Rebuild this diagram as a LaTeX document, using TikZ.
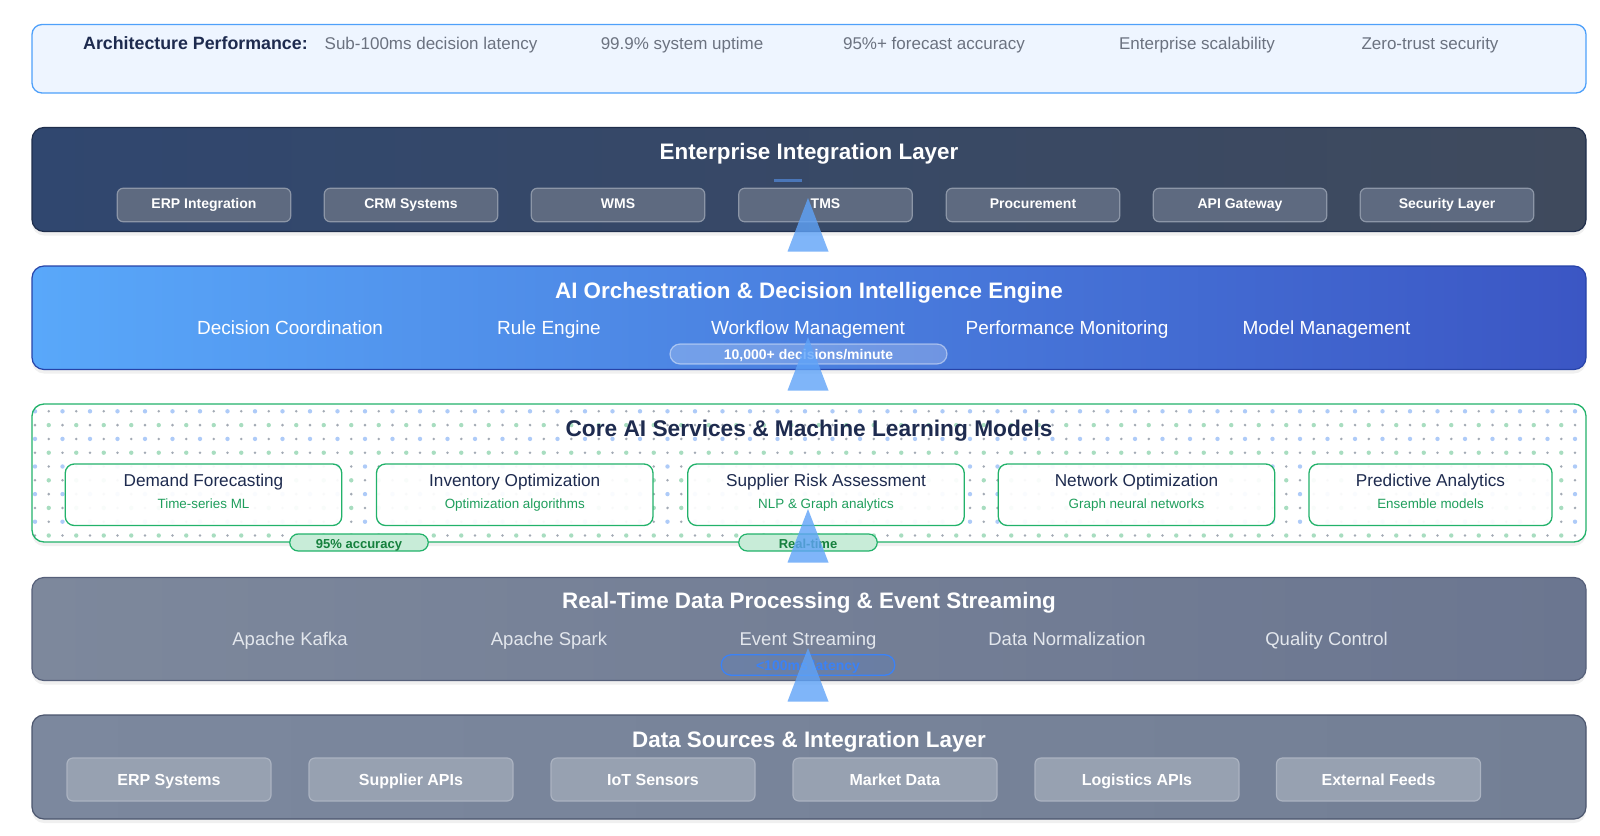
\documentclass[tikz,border=0pt]{standalone}
\usepackage{fontspec}
\setmainfont{Liberation Sans}
\usetikzlibrary{shadows}

\definecolor{navytext}{HTML}{1E2B4F}
\definecolor{greytext}{HTML}{6B7280}
\definecolor{perffill}{HTML}{EEF5FF}
\definecolor{perfedge}{HTML}{4EA0FA}
\definecolor{entleft}{HTML}{30476F}
\definecolor{entright}{HTML}{3F4A5D}
\definecolor{entedge}{HTML}{1F2E4C}
\definecolor{entboxfill}{HTML}{5E6A80}
\definecolor{entboxedge}{HTML}{8C96A7}
\definecolor{entaccent}{HTML}{4A76B8}
\definecolor{aileft}{HTML}{59A8FA}
\definecolor{airight}{HTML}{3B56C4}
\definecolor{aiedge}{HTML}{2743A8}
\definecolor{coregreen}{HTML}{22B26A}
\definecolor{cardsub}{HTML}{1F9E5C}
\definecolor{pillgreen}{HTML}{C8ECD8}
\definecolor{pilltext}{HTML}{15803D}
\definecolor{dotblue}{HTML}{AECBF8}
\definecolor{dotgreen}{HTML}{A8DDC0}
\definecolor{dotgrey}{HTML}{A3AAB5}
\definecolor{rtleft}{HTML}{7D889C}
\definecolor{rtright}{HTML}{6B7690}
\definecolor{rtedge}{HTML}{56607A}
\definecolor{rttext}{HTML}{E3E7ED}
\definecolor{rtblue}{HTML}{3B82F6}
\definecolor{dsleft}{HTML}{7C889E}
\definecolor{dsright}{HTML}{737F95}
\definecolor{dsedge}{HTML}{4C566E}
\definecolor{dsboxfill}{HTML}{97A1B1}
\definecolor{dsboxedge}{HTML}{ABB3C1}
\definecolor{flowblue}{HTML}{5FA3F8}

\tikzset{
    every node/.style={text height=1.32em, text depth=0.16em},
    layershadow/.style={drop shadow={opacity=0.12, shadow xshift=0pt, shadow yshift=-4pt}},
    layertitle/.style={font=\bfseries\fontsize{22.4}{26}\selectfont, text=white},
    perfhead/.style={font=\bfseries\fontsize{17.8}{21}\selectfont, text=navytext},
    perfitem/.style={font=\fontsize{17}{20}\selectfont, text=greytext},
    entbox/.style={draw=entboxedge, fill=entboxfill, line width=1.2pt, rounded corners=6pt,
        text height=0.95em, text depth=0.234em,
        minimum width=173.5pt, minimum height=33.5pt, text=white, font=\bfseries\fontsize{14}{16}\selectfont},
    aiitem/.style={font=\fontsize{19}{22}\selectfont, text=white},
    rtitem/.style={font=\fontsize{18.5}{22}\selectfont, text=rttext},
    aicard/.style={draw=coregreen, fill=white, fill opacity=0.93, line width=1.3pt, rounded corners=9pt,
        minimum width=276.5pt, minimum height=61.5pt},
    cardtitle/.style={font=\fontsize{17.2}{20}\selectfont, text=navytext},
    cardsubtitle/.style={font=\fontsize{13.4}{16}\selectfont, text=cardsub},
    greenpill/.style={draw=coregreen, fill=pillgreen, line width=1.2pt, rounded corners=8.5pt,
        minimum width=138.5pt, minimum height=17pt, inner sep=0pt, text=pilltext, font=\bfseries\fontsize{13}{15}\selectfont},
    srcbox/.style={draw=dsboxedge, fill=dsboxfill, line width=1.2pt, rounded corners=6pt,
        minimum width=204pt, minimum height=43pt, text=white, font=\bfseries\fontsize{16}{19}\selectfont},
    flowarrow/.style={fill=flowblue, fill opacity=0.8},
}

\begin{document}
\begin{tikzpicture}[x=1pt,y=-1pt]
    \useasboundingbox (0,0) rectangle (1600,835);

    % Performance summary bar
    \draw[perfedge, fill=perffill, line width=1.3pt, rounded corners=10pt] (32,24.5) rectangle (1586,93);
    \node[perfhead, anchor=west, inner sep=0pt] (perfhead) at (83,44) {Architecture Performance:};
    \node[perfitem] (latency) at (431,44) {Sub-100ms decision latency};
    \node[perfitem] (uptime) at (682,44) {99.9\% system uptime};
    \node[perfitem] (accuracy) at (934,44) {95\%+ forecast accuracy};
    \node[perfitem] (scaling) at (1197,44) {Enterprise scalability};
    \node[perfitem] (zerotrust) at (1430,44) {Zero-trust security};

    % Enterprise integration layer
    \path[layershadow, left color=entleft, right color=entright, draw=entedge, line width=1.2pt, rounded corners=12pt]
        (32,127.5) rectangle (1586,231.5);
    \node[layertitle] (enttitle) at (809,154) {Enterprise Integration Layer};
    \draw[entaccent, line width=3pt] (774,180) -- (802,180);
    \node[entbox] (erpint) at (204,205) {ERP Integration};
    \node[entbox] (crm) at (411,205) {CRM Systems};
    \node[entbox] (wms) at (618,205) {WMS};
    \node[entbox] (tms) at (825.5,205) {TMS};
    \node[entbox] (procure) at (1033,205) {Procurement};
    \node[entbox] (apigw) at (1240,205) {API Gateway};
    \node[entbox] (seclayer) at (1447,205) {Security Layer};

    % AI orchestration layer
    \path[layershadow, left color=aileft, right color=airight, draw=aiedge, line width=1.2pt, rounded corners=12pt]
        (32,266) rectangle (1586,369.5);
    \node[layertitle] (aititle) at (809,293) {AI Orchestration \& Decision Intelligence Engine};
    \node[aiitem] (coord) at (290,328.5) {Decision Coordination};
    \node[aiitem] (rules) at (549,328.5) {Rule Engine};
    \node[aiitem] (workflow) at (808,328.5) {Workflow Management};
    \node[aiitem] (perfmon) at (1067,328.5) {Performance Monitoring};
    \node[aiitem] (modelmgmt) at (1326.5,328.5) {Model Management};
    \node[draw=white, draw opacity=0.45, fill=white, fill opacity=0.22, text opacity=1, line width=1.2pt,
        rounded corners=10pt, minimum width=277pt, minimum height=20pt, inner sep=0pt, text=white,
        font=\bfseries\fontsize{14}{16}\selectfont] (decrate) at (808.5,354) {10,000+ decisions/minute};

    % Core AI services layer (dotted background)
    \fill[layershadow, white, rounded corners=12pt] (32,404) rectangle (1586,542);
    \begin{scope}
        \clip[rounded corners=12pt] (32,404) rectangle (1586,542);
        \foreach \r in {0,2,...,8}
            \foreach \c in {0,2,...,114}
                \fill[dotblue] ({35+13.75*\c},{411.3+13.8*\r}) circle (2.2pt);
        \foreach \r in {0,2,...,8}
            \foreach \c in {1,3,...,113}
                \fill[dotgrey] ({35+13.75*\c},{411.3+13.8*\r}) circle (1.4pt);
        \foreach \r in {1,3,...,9}
            \foreach \c in {1,3,...,113}
                \fill[dotgreen] ({35+13.75*\c},{411.3+13.8*\r}) circle (2.2pt);
        \foreach \r in {1,3,...,9}
            \foreach \c in {0,2,...,114}
                \fill[dotgrey] ({35+13.75*\c},{411.3+13.8*\r}) circle (1.4pt);
    \end{scope}
    \draw[coregreen, line width=1.3pt, rounded corners=12pt] (32,404) rectangle (1586,542);
    \node[font=\bfseries\fontsize{22.7}{26}\selectfont, text=navytext] (coretitle) at (809,431)
        {Core AI Services \& Machine Learning Models};

    \node[aicard] (demand) at (203.5,494.75) {};
    \node[cardtitle] (demandt) at (203.5,480.5) {Demand Forecasting};
    \node[cardsubtitle] (demands) at (203.5,503) {Time-series ML};
    \node[aicard] (inventory) at (514.75,494.75) {};
    \node[cardtitle] (inventoryt) at (514.75,480.5) {Inventory Optimization};
    \node[cardsubtitle] (inventorys) at (514.75,503) {Optimization algorithms};
    \node[aicard] (supplier) at (826,494.75) {};
    \node[cardtitle] (suppliert) at (826,480.5) {Supplier Risk Assessment};
    \node[cardsubtitle] (suppliers) at (826,503) {NLP \& Graph analytics};
    \node[aicard] (network) at (1136.5,494.75) {};
    \node[cardtitle] (networkt) at (1136.5,480.5) {Network Optimization};
    \node[cardsubtitle] (networks) at (1136.5,503) {Graph neural networks};
    \node[aicard, minimum width=243pt] (predict) at (1430.5,494.75) {};
    \node[cardtitle] (predictt) at (1430.5,480.5) {Predictive Analytics};
    \node[cardsubtitle] (predicts) at (1430.5,503) {Ensemble models};

    \node[greenpill] (acc) at (359,542.5) {95\% accuracy};
    \node[greenpill] (realtime) at (808,542.5) {Real-time};

    % Real-time data processing layer
    \path[layershadow, left color=rtleft, right color=rtright, draw=rtedge, line width=1.2pt, rounded corners=12pt]
        (32,577.5) rectangle (1586,680.5);
    \node[layertitle] (rttitle) at (809,603) {Real-Time Data Processing \& Event Streaming};
    \node[rtitem] (kafka) at (290,640) {Apache Kafka};
    \node[rtitem] (spark) at (549,640) {Apache Spark};
    \node[rtitem] (events) at (808,640) {Event Streaming};
    \node[rtitem] (normal) at (1067,640) {Data Normalization};
    \node[rtitem] (quality) at (1326.5,640) {Quality Control};
    \node[draw=rtblue, fill=rtblue, fill opacity=0.15, text opacity=1, line width=1.3pt,
        rounded corners=10pt, minimum width=173.5pt, minimum height=20.5pt, inner sep=0pt, text=rtblue,
        font=\bfseries\fontsize{14}{16}\selectfont] (lowlat) at (808,665) {<100ms latency};

    % Data sources layer
    \path[layershadow, left color=dsleft, right color=dsright, draw=dsedge, line width=1.2pt, rounded corners=12pt]
        (32,715) rectangle (1586,819);
    \node[layertitle] (dstitle) at (809,742) {Data Sources \& Integration Layer};
    \node[srcbox] (erpsrc) at (169,779.5) {ERP Systems};
    \node[srcbox] (supapi) at (411,779.5) {Supplier APIs};
    \node[srcbox] (iot) at (653,779.5) {IoT Sensors};
    \node[srcbox] (market) at (895,779.5) {Market Data};
    \node[srcbox] (logapi) at (1137,779.5) {Logistics APIs};
    \node[srcbox] (feeds) at (1378.5,779.5) {External Feeds};

    % Upward flow arrows
    \coordinate (up1) at (808,198);
    \coordinate (up2) at (808,337);
    \coordinate (up3) at (808,509);
    \coordinate (up4) at (808,648);
    \fill[flowarrow] (up1) -- ++(20.5,53.5) -- ++(-41,0) -- cycle;
    \fill[flowarrow] (up2) -- ++(20.5,53.5) -- ++(-41,0) -- cycle;
    \fill[flowarrow] (up3) -- ++(20.5,53.5) -- ++(-41,0) -- cycle;
    \fill[flowarrow] (up4) -- ++(20.5,53.5) -- ++(-41,0) -- cycle;
\end{tikzpicture}
\end{document}
